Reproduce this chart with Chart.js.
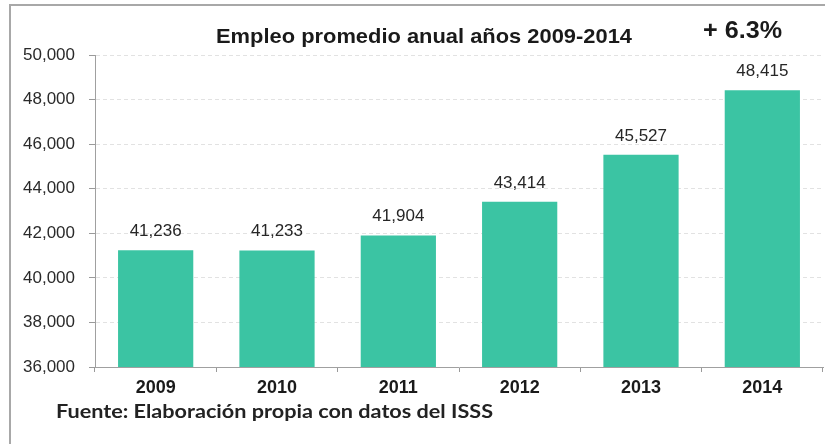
<!DOCTYPE html>
<html>
<head>
<meta charset="utf-8">
<script src="https://cdn.jsdelivr.net/npm/chart.js@4.4.1/dist/chart.umd.min.js"></script>
<style>
  html, body { margin: 0; padding: 0; background: #ffffff; }
  #wrap { position: relative; width: 825px; height: 444px; }
  canvas { display: block; }
</style>
</head>
<body>
<div id="wrap"><canvas id="chart" width="825" height="444"></canvas></div>
<script>
// Annual average employment, 2009-2014
const years = ['2009', '2010', '2011', '2012', '2013', '2014'];
const empleo = [41236, 41233, 41904, 43414, 45527, 48415];
const yTicks = [36000, 38000, 40000, 42000, 44000, 46000, 48000, 50000];
const titulo = 'Empleo promedio anual años 2009-2014';
const variacion = '+ 6.3%';
const fuente = 'Fuente: Elaboración propia con datos del ISSS';

const fmt = v => v.toLocaleString('en-US');

// draw a line of text stretched to a given width, starting at x
function fitText(ctx, text, x, y, width) {
  const w = ctx.measureText(text).width;
  ctx.save();
  ctx.translate(x, y);
  ctx.scale(width / w, 1);
  ctx.fillText(text, 0, 0);
  ctx.restore();
}

// Frame, headings, source note and value labels
const decor = {
  id: 'decor',
  beforeDraw(chart) {
    const ctx = chart.ctx;
    ctx.save();
    ctx.fillStyle = '#ffffff';
    ctx.fillRect(0, 0, chart.width, chart.height);
    ctx.strokeStyle = '#a8a8a8';
    ctx.lineWidth = 2;
    ctx.strokeRect(10, 5, chart.width + 20, chart.height + 20);
    ctx.restore();
  },
  afterDraw(chart) {
    const ctx = chart.ctx;
    ctx.save();
    ctx.fillStyle = '#1a1a1a';
    ctx.textBaseline = 'middle';
    ctx.textAlign = 'left';
    ctx.font = 'bold 21px "Liberation Sans", Arial, sans-serif';
    fitText(ctx, titulo, 216, 37, 416);
    ctx.font = 'bold 23px "Liberation Sans", Arial, sans-serif';
    fitText(ctx, variacion, 703, 32, 79);
    ctx.fillStyle = '#222222';
    ctx.font = 'bold 19px Lato, "Open Sans", sans-serif';
    fitText(ctx, fuente, 56, 412, 437);

    // value above each bar
    ctx.textAlign = 'center';
    ctx.textBaseline = 'alphabetic';
    ctx.fillStyle = '#262626';
    ctx.font = '17px "Liberation Sans", Arial, sans-serif';
    const meta = chart.getDatasetMeta(0);
    meta.data.forEach((bar, i) => {
      ctx.fillText(fmt(empleo[i]), bar.x, bar.y - 14);
    });
    ctx.restore();
  }
};

new Chart(document.getElementById('chart'), {
  type: 'bar',
  data: {
    labels: years,
    datasets: [{
      data: empleo,
      backgroundColor: '#3bc4a3',
      borderWidth: 0,
      categoryPercentage: 1,
      barPercentage: 0.62
    }]
  },
  options: {
    responsive: false,
    animation: false,
    layout: { padding: { left: 0, right: 2, top: 55, bottom: 0 } },
    plugins: { legend: { display: false }, tooltip: { enabled: false } },
    scales: {
      x: {
        afterFit(scale) { scale.height = 444 - 367; },
        grid: { display: true, drawOnChartArea: false, drawTicks: true, tickLength: 5, tickColor: '#9a9a9a', offset: true },
        border: { display: true, color: '#a0a0a0', width: 1 },
        ticks: {
          color: '#1a1a1a',
          padding: 5,
          font: { family: '"Liberation Sans", Arial, sans-serif', size: 18, weight: 'bold' }
        }
      },
      y: {
        min: 36000,
        max: 50000,
        afterFit(scale) { scale.width = 95; },
        afterBuildTicks(scale) { scale.ticks = yTicks.map(v => ({ value: v })); },
        grid: { color: '#e2e2e2', tickColor: '#9a9a9a', tickLength: 6, drawTicks: true },
        border: { display: true, color: '#a0a0a0', width: 1, dash: [4, 3] },
        ticks: {
          color: '#2a2a2a',
          padding: 14,
          font: { family: '"Liberation Sans", Arial, sans-serif', size: 17 },
          callback: v => fmt(v)
        }
      }
    }
  },
  plugins: [decor]
});
</script>
</body>
</html>
